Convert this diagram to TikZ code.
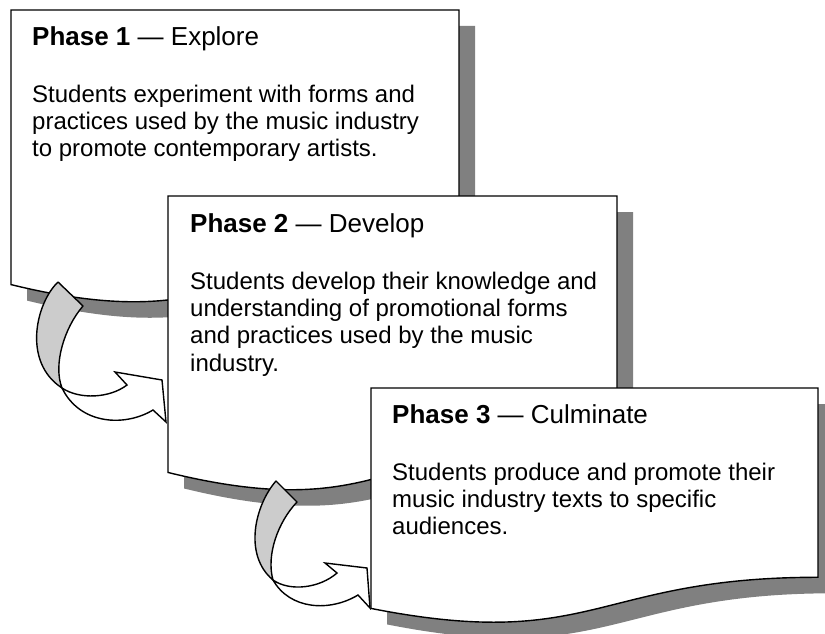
\documentclass[tikz,border=0pt]{standalone}
\usepackage{fontspec}
\setmainfont{Liberation Sans}

% page with a wavy lower edge and its drop shadow: left, top, right, height
\newcommand\phasepage[4]{%
  \fill[pageshadow] (#1,#2) -- (#3,#2) -- (#3,{#2+0.802*#4})
    .. controls ({(#1+#3)/2},{#2+0.802*#4}) and ({(#1+#3)/2},{#2+1.12*#4}) .. (#1,{#2+0.934*#4}) -- cycle;
  \draw[page] (#1,#2) -- (#3,#2) -- (#3,{#2+0.802*#4})
    .. controls ({(#1+#3)/2},{#2+0.802*#4}) and ({(#1+#3)/2},{#2+1.12*#4}) .. (#1,{#2+0.934*#4}) -- cycle;}
\newcommand\phasetitle[2]{{\fontsize{26}{27.3}\selectfont\textbf{#1} — #2}}

\begin{document}
\begin{tikzpicture}
  [x=1pt,y=-1pt,
   page/.style={draw,line width=1.4pt,fill=white},
   pageshadow/.style={fill=gray,shift={(16,16)}},
   backside/.style={draw,line width=1.4pt,fill=black!20,line join=round},
   frontside/.style={draw,line width=1.4pt,fill=white},
   phasetext/.style={anchor=north west,inner sep=0pt,align=left,
     font=\fontsize{24}{27.3}\selectfont}]
  \useasboundingbox (0,0) rectangle (825,634);
  \clip (0,0) rectangle (825,634);

  \phasepage{11}{10}{459}{294}
  \node[phasetext] (p1) at (32,26) {\phasetitle{Phase 1}{Explore}\\[30pt]
    Students experiment with forms and\\
    practices used by the music industry\\
    to promote contemporary artists.};

  \phasepage{168}{196}{617}{296}
  \node[phasetext] (p2) at (190,213) {\phasetitle{Phase 2}{Develop}\\[30pt]
    Students develop their knowledge and\\
    understanding of promotional forms\\
    and practices used by the music\\
    industry.};

  % turn from phase 1 to phase 2
  \draw[backside] (58,282) -- (83,306) .. controls (64,328) and (53,365) .. (62,388)
    .. controls (22,362) and (36,303) .. (58,282) -- cycle;
  \draw[frontside] (62,388) .. controls (80,400) and (110,398) .. (127,385)
    -- (115,372) -- (162,380) -- (166,422) -- (153,410)
    .. controls (125,427) and (80,425) .. (62,388) -- cycle;

  \phasepage{371}{388}{818}{236}
  \node[phasetext] (p3) at (392,404) {\phasetitle{Phase 3}{Culminate}\\[30pt]
    Students produce and promote their\\
    music industry texts to specific\\
    audiences.};

  % turn from phase 2 to phase 3
  \draw[backside] (276,481) -- (297,502) .. controls (278,522) and (266,555) .. (273,580)
    .. controls (243,555) and (255,505) .. (276,481) -- cycle;
  \draw[frontside] (273,580) .. controls (290,592) and (320,588) .. (337,573)
    -- (325,563) -- (367,568) -- (370,608) -- (358,595)
    .. controls (330,612) and (290,610) .. (273,580) -- cycle;
\end{tikzpicture}
\end{document}
